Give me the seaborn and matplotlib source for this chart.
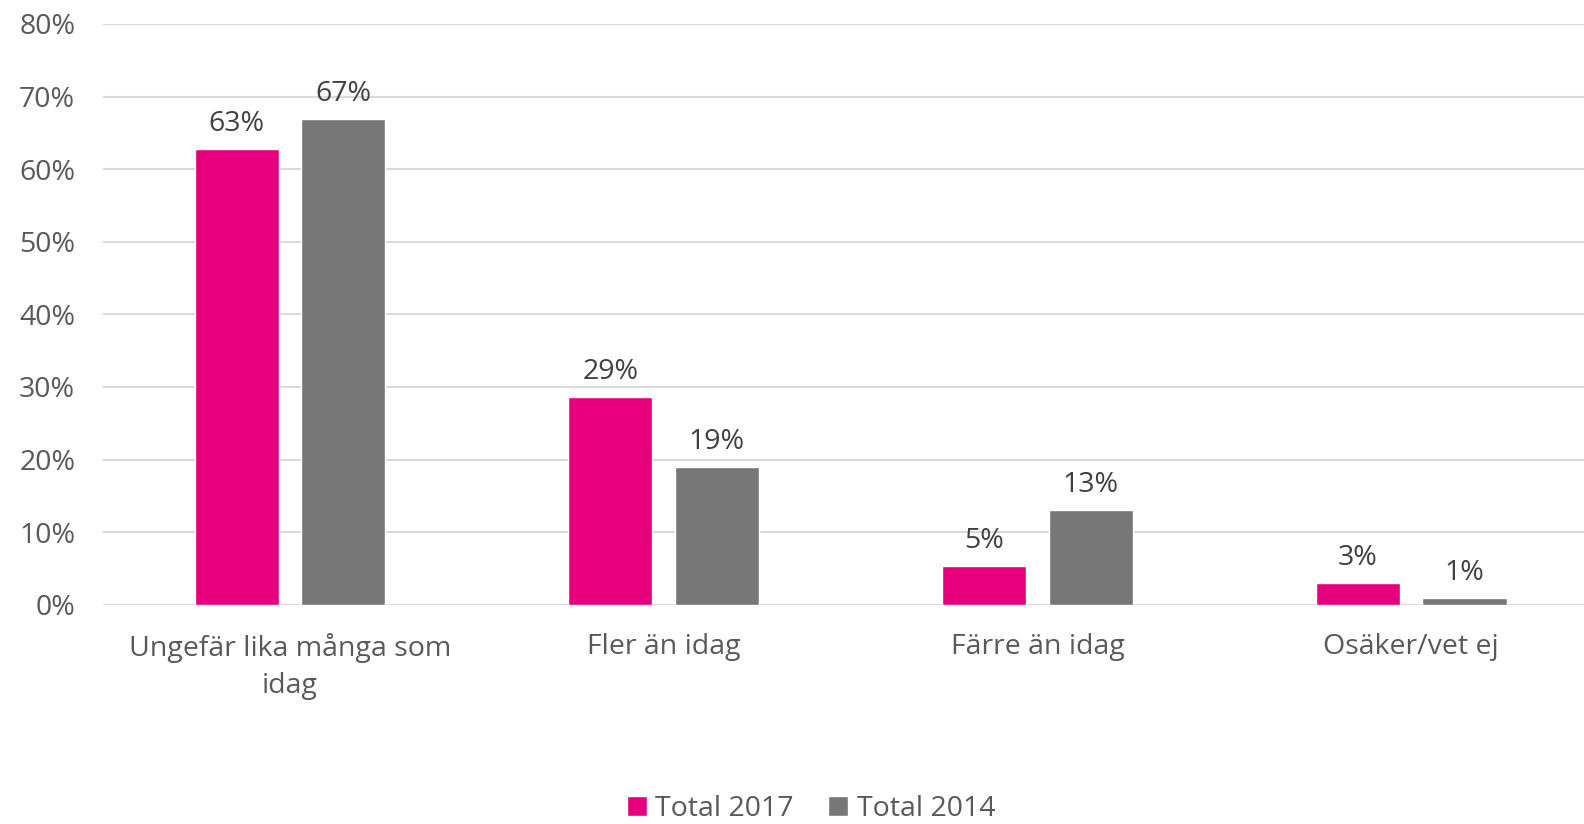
import numpy as np
import pandas as pd
import matplotlib.pyplot as plt
import seaborn as sns

categories = ["Ungefär lika många som\nidag", "Fler än idag", "Färre än idag", "Osäker/vet ej"]
total_2017 = [62.8, 28.6, 5.3, 3.0]
total_2014 = [66.9, 19.0, 13.0, 0.9]
series = ["Total 2017", "Total 2014"]
colors = ["#E6007E", "#777777"]

df = pd.DataFrame({
    "category": categories * 2,
    "value": total_2017 + total_2014,
    "series": [series[0]] * 4 + [series[1]] * 4,
})

sns.set_theme(style="white")
plt.rcParams["font.family"] = ["Open Sans", "DejaVu Sans"]

fig = plt.figure(figsize=(15.84, 8.24), dpi=100)
ax = fig.add_axes([0.065, 0.266, 0.935, 0.705])

sns.barplot(data=df, x="category", y="value", hue="series", palette=colors,
            width=0.57, gap=0.21, saturation=1, ax=ax, zorder=3)

for cont in ax.containers:
    ax.bar_label(cont, labels=[f"{v:.0f}%" for v in cont.datavalues],
                 padding=8, fontsize=20.5, color="#404040")

ax.set_ylim(0, 80)
ax.set_xlim(-0.5, 3.462)
ax.set_yticks(np.arange(0, 81, 10))
ax.set_yticklabels([f"{t}%" for t in range(0, 81, 10)])
ax.yaxis.grid(True, color="#D9D9D9", linewidth=1.5, zorder=0)
ax.set_xlabel("")
ax.set_ylabel("")
ax.tick_params(axis="y", labelsize=20.5, labelcolor="#595959", length=0, pad=20)
ax.tick_params(axis="x", labelsize=20.5, labelcolor="#595959", length=0, pad=20)
for lbl in ax.get_xticklabels():
    lbl.set_linespacing(1.45)
for s in ax.spines.values():
    s.set_visible(False)

leg = ax.legend(loc="center", bbox_to_anchor=((811 / 1584 - 0.065) / 0.935, (1 - 809 / 824 - 0.266) / 0.705),
                ncol=2, frameon=False, fontsize=20.5, handlelength=0.7, handleheight=0.7,
                handletextpad=0.3, columnspacing=1.2)
for t in leg.get_texts():
    t.set_color("#595959")

fig.savefig("out.png", dpi=100)
